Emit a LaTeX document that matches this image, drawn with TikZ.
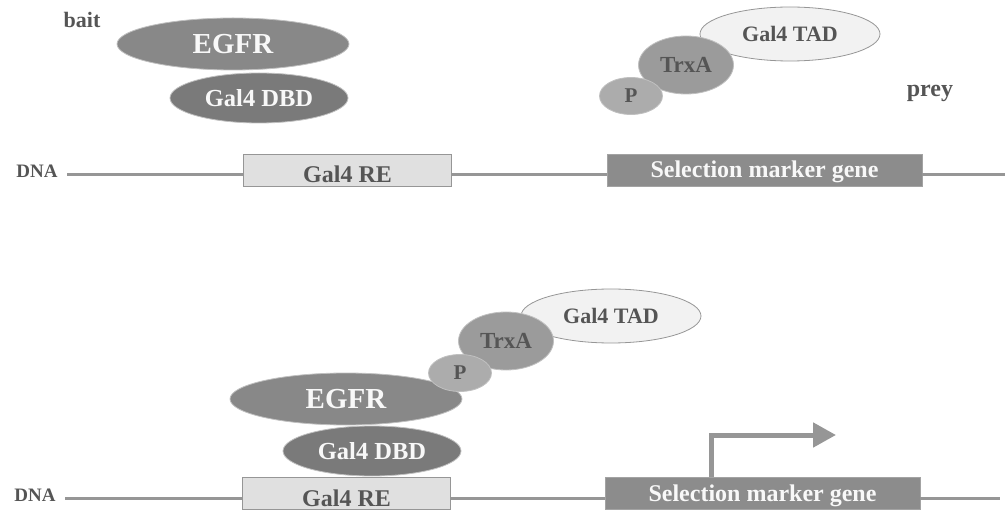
\documentclass[tikz,border=0pt]{standalone}
\usepackage{fontspec}
\setmainfont{Liberation Serif}
\usetikzlibrary{shapes.geometric,arrows.meta}
\definecolor{inkgray}{RGB}{85,85,85}
\definecolor{protA}{RGB}{136,136,136}
\definecolor{protB}{RGB}{122,122,122}
\definecolor{trxfill}{RGB}{155,155,155}
\definecolor{pfill}{RGB}{172,172,172}
\definecolor{tadfill}{RGB}{242,242,242}
\definecolor{refill}{RGB}{224,224,224}
\definecolor{genefill}{RGB}{140,140,140}
\definecolor{linegray}{RGB}{150,150,150}
\definecolor{softwhite}{RGB}{248,248,248}
\tikzset{
  prot/.style={ellipse, inner sep=0pt, draw=linegray!60, line width=0.8pt, font=\bfseries},
  egfr/.style={prot, fill=protA, text=softwhite, minimum width=232pt, minimum height=52pt, font=\bfseries\fontsize{29}{30}\selectfont},
  dbd/.style={prot, fill=protB, text=softwhite, minimum width=178pt, minimum height=50pt, font=\bfseries\fontsize{24.5}{26}\selectfont},
  trx/.style={prot, fill=trxfill, text=inkgray, minimum width=95pt, minimum height=58pt, font=\bfseries\fontsize{23}{24}\selectfont},
  phos/.style={prot, fill=pfill, text=inkgray, minimum width=63pt, minimum height=37pt, font=\bfseries\fontsize{21}{22}\selectfont},
  tad/.style={prot, fill=tadfill, draw=linegray, text=inkgray, minimum width=180pt, minimum height=54pt, font=\bfseries\fontsize{22}{23}\selectfont},
  rebox/.style={rectangle, inner sep=0pt, fill=refill, draw=linegray, line width=0.8pt, text=inkgray, minimum width=208pt, minimum height=32pt, text height=26pt, text depth=0pt, font=\bfseries\fontsize{24}{25}\selectfont},
  genebox/.style={rectangle, inner sep=0pt, fill=genefill, draw=genefill!80!white, line width=0.8pt, text=softwhite, minimum width=315pt, minimum height=32pt, text height=16pt, text depth=0pt, font=\bfseries\fontsize{24}{25}\selectfont},
  lbl/.style={text=inkgray, inner sep=0pt, font=\bfseries\fontsize{22}{23}\selectfont},
  dnalbl/.style={text=inkgray, inner sep=0pt, font=\bfseries\fontsize{19}{20}\selectfont},
  dna/.style={draw=linegray, line width=3pt},
  onarrow/.style={draw=linegray, line width=5pt, -{Triangle[length=23pt,width=24pt]}}
}
\begin{document}
\begin{tikzpicture}[x=1pt,y=-1pt]
\useasboundingbox (0,0) rectangle (1005,513);

% ---- upper panel: bait and prey apart ----
\node[lbl] (bait) at (82,20) {bait};
\node[egfr] (egfrA) at (233,44) {EGFR};
\node[dbd] (dbdA) at (259,98) {Gal4 DBD};

\node[tad] (tadA) at (790,34) {Gal4 TAD};
\node[trx] (trxA) at (686,65) {TrxA};
\node[phos] (pA) at (631,96) {P};
\node[lbl, font=\bfseries\fontsize{24}{25}\selectfont] (prey) at (930,93) {prey};

\node[dnalbl] (dnaA) at (37,171) {DNA};
\coordinate (dnaAl) at (67,175);
\coordinate (dnaAr) at (1005,175);
\node[rebox] (reA) at (347.5,170) {Gal4 RE};
\node[genebox] (geneA) at (764.5,170) {Selection marker gene};
\draw[dna] (dnaAl) -- (reA.west |- dnaAl);
\draw[dna] (reA.east |- dnaAl) -- (geneA.west |- dnaAl);
\draw[dna] (geneA.east |- dnaAl) -- (dnaAr);

% ---- lower panel: bait and prey bound, marker gene switched on ----
\node[tad] (tadB) at (611,316) {Gal4 TAD};
\node[trx] (trxB) at (506,341) {TrxA};
\node[egfr] (egfrB) at (346,399) {EGFR};
\node[phos] (pB) at (460,373) {P};
\node[dbd] (dbdB) at (372,451) {Gal4 DBD};

\node[dnalbl] (dnaB) at (35,495) {DNA};
\coordinate (dnaBl) at (65,498);
\coordinate (dnaBr) at (1000,498);
\node[rebox] (reB) at (346.5,493) {Gal4 RE};
\node[genebox] (geneB) at (762.5,493) {Selection marker gene};
\draw[dna] (dnaBl) -- (reB.west |- dnaBl);
\draw[dna] (reB.east |- dnaBl) -- (geneB.west |- dnaBl);
\draw[dna] (geneB.east |- dnaBl) -- (dnaBr);

\coordinate (tss) at (711,477);
\coordinate (tip) at (836,435);
\draw[onarrow] (tss) |- (tip);
\end{tikzpicture}
\end{document}
